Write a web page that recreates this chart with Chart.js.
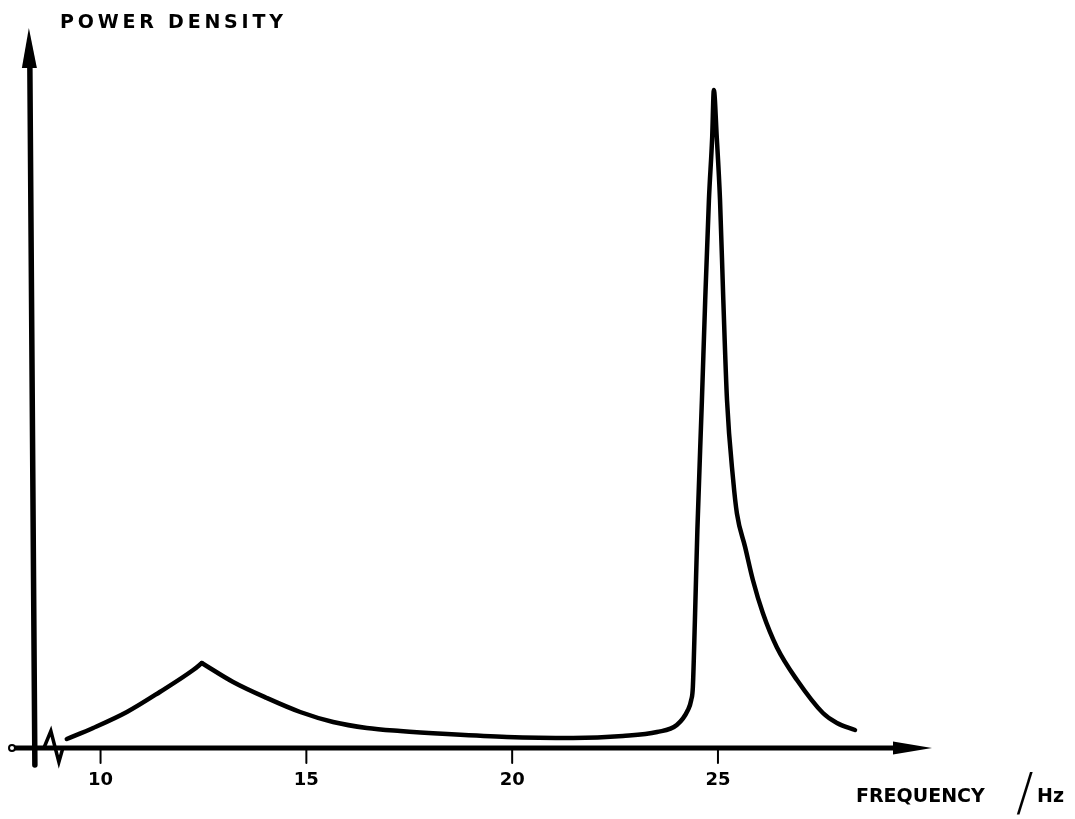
<!DOCTYPE html>
<html>
<head>
<meta charset="utf-8">
<script src="https://cdn.jsdelivr.net/npm/chart.js@4.4.1/dist/chart.umd.min.js"></script>
<style>
  body { margin: 0; background: #fff; }
  #wrap { width: 1075px; height: 819px; }
</style>
</head>
<body>
<div id="wrap"><canvas id="myChart" width="1075" height="819"></canvas></div>
<script>
// spectrum, split at the cusp near 12.5 Hz
const lowFreq = [9.18, 9.82, 10.64, 11.44, 12.25, 12.46];
const lowPower = [1.25, 2.78, 5.0, 7.78, 10.83, 11.8];

const highFreq = [12.46, 13.22, 14.04, 14.85, 15.65, 16.47, 17.28, 18.42, 19.87, 21.48,
    22.69, 23.52, 24.0, 24.27, 24.35, 24.39, 24.44, 24.50, 24.61,
    24.69, 24.78, 24.86, 24.90, 24.97, 25.05, 25.13, 25.22, 25.37, 25.46,
    25.66, 25.85, 26.09, 26.43, 26.92, 27.55, 27.89, 28.33];
const highPower = [11.8, 9.17, 6.94, 5.0, 3.61, 2.78, 2.36, 1.94, 1.53, 1.39,
    1.67, 2.22, 3.19, 5.28, 6.67, 8.47, 17.8, 30.3, 48.3,
    62.2, 76.1, 84.9, 91.4, 84.9, 76.1, 62.2, 48.3, 37.2, 32.6,
    27.9, 23.3, 18.75, 14.0, 9.44, 4.86, 3.47, 2.5];

const tickValues = [10, 15, 20, 25];
const yAxisAt = 8.38; // frequency where the power axis stands

function toPoints(xs, ys) {
    return xs.map((f, i) => ({ x: f, y: ys[i] }));
}

const FONT = '"DejaVu Sans", "Liberation Sans", sans-serif';

const handAxes = {
    id: 'handAxes',
    beforeDatasetsDraw(chart) {
        const ctx = chart.ctx;
        const x = chart.scales.x;
        const y = chart.scales.y;
        const area = chart.chartArea;
        const y0 = y.getPixelForValue(0);
        const ax = x.getPixelForValue(yAxisAt);

        ctx.save();
        ctx.strokeStyle = '#000';
        ctx.fillStyle = '#000';
        ctx.lineCap = 'round';

        // frequency axis
        ctx.lineWidth = 5;
        ctx.beginPath();
        ctx.moveTo(area.left + 3, y0);
        ctx.lineTo(area.right - 30, y0);
        ctx.stroke();
        ctx.beginPath();
        ctx.moveTo(area.right, y0);
        ctx.lineTo(area.right - 39, y0 - 6.5);
        ctx.lineTo(area.right - 39, y0 + 6.5);
        ctx.closePath();
        ctx.fill();

        // open end at the left
        ctx.lineWidth = 2;
        ctx.fillStyle = '#fff';
        ctx.beginPath();
        ctx.arc(area.left + 2, y0, 3, 0, Math.PI * 2);
        ctx.fill();
        ctx.stroke();
        ctx.fillStyle = '#000';

        // tick marks
        ctx.lineWidth = 2;
        tickValues.forEach(v => {
            const px = x.getPixelForValue(v);
            ctx.beginPath();
            ctx.moveTo(px, y0 + 2);
            ctx.lineTo(px, y0 + 15);
            ctx.stroke();
        });

        // axis break
        ctx.lineWidth = 3.5;
        ctx.lineJoin = 'miter';
        ctx.beginPath();
        ctx.moveTo(ax + 10, y0);
        ctx.lineTo(ax + 17, y0 - 17);
        ctx.lineTo(ax + 25, y0 + 14);
        ctx.lineTo(ax + 29, y0);
        ctx.stroke();

        // power axis, slightly leaning like the drawing
        ctx.lineWidth = 5.5;
        ctx.beginPath();
        ctx.moveTo(ax + 1, area.bottom);
        ctx.lineTo(ax - 4, area.top + 40);
        ctx.stroke();
        ctx.beginPath();
        ctx.moveTo(ax - 5, area.top);
        ctx.lineTo(ax - 12, area.top + 40);
        ctx.lineTo(ax + 3, area.top + 40);
        ctx.closePath();
        ctx.fill();

        ctx.restore();
    },
    afterDraw(chart) {
        const ctx = chart.ctx;
        ctx.save();
        ctx.fillStyle = '#000';
        ctx.textBaseline = 'alphabetic';
        ctx.textAlign = 'left';
        ctx.font = 'bold 19px ' + FONT;
        ctx.letterSpacing = '3.8px';
        ctx.fillText('POWER DENSITY', 60, 28);
        ctx.letterSpacing = '0px';
        ctx.fillText('FREQUENCY', 856, 802);
        ctx.fillText('Hz', 1037, 802);
        ctx.font = '200 52px ' + FONT;
        ctx.fillText('/', 1016, 810);
        ctx.restore();
    }
};

let chart = new Chart(document.getElementById('myChart').getContext('2d'), {
    type: 'line',
    data: {
        datasets: [{
            data: toPoints(lowFreq, lowPower),
        }, {
            data: toPoints(highFreq, highPower),
        }]
    },
    options: {
        responsive: false,
        animation: false,
        layout: {
            padding: { left: 10, right: 143, top: 28, bottom: 0 }
        },
        elements: {
            point: { radius: 0 },
            line: {
                borderColor: '#000',
                borderWidth: 4.5,
                cubicInterpolationMode: 'monotone',
                borderCapStyle: 'round',
                borderJoinStyle: 'round',
                fill: false
            }
        },
        plugins: {
            legend: { display: false },
            tooltip: { enabled: false }
        },
        scales: {
            x: {
                type: 'linear',
                min: 7.8,
                max: 30.2,
                grid: { display: false, drawTicks: false },
                border: { display: false },
                afterBuildTicks: axis => {
                    axis.ticks = tickValues.map(v => ({ value: v }));
                },
                afterFit: axis => {
                    axis.height = 54;
                },
                ticks: {
                    color: '#000',
                    padding: 5,
                    maxRotation: 0,
                    font: { family: FONT, size: 18, weight: 'bold' }
                }
            },
            y: {
                display: false,
                min: -2.36,
                max: 100
            }
        }
    },
    plugins: [handAxes]
});
</script>
</body>
</html>
